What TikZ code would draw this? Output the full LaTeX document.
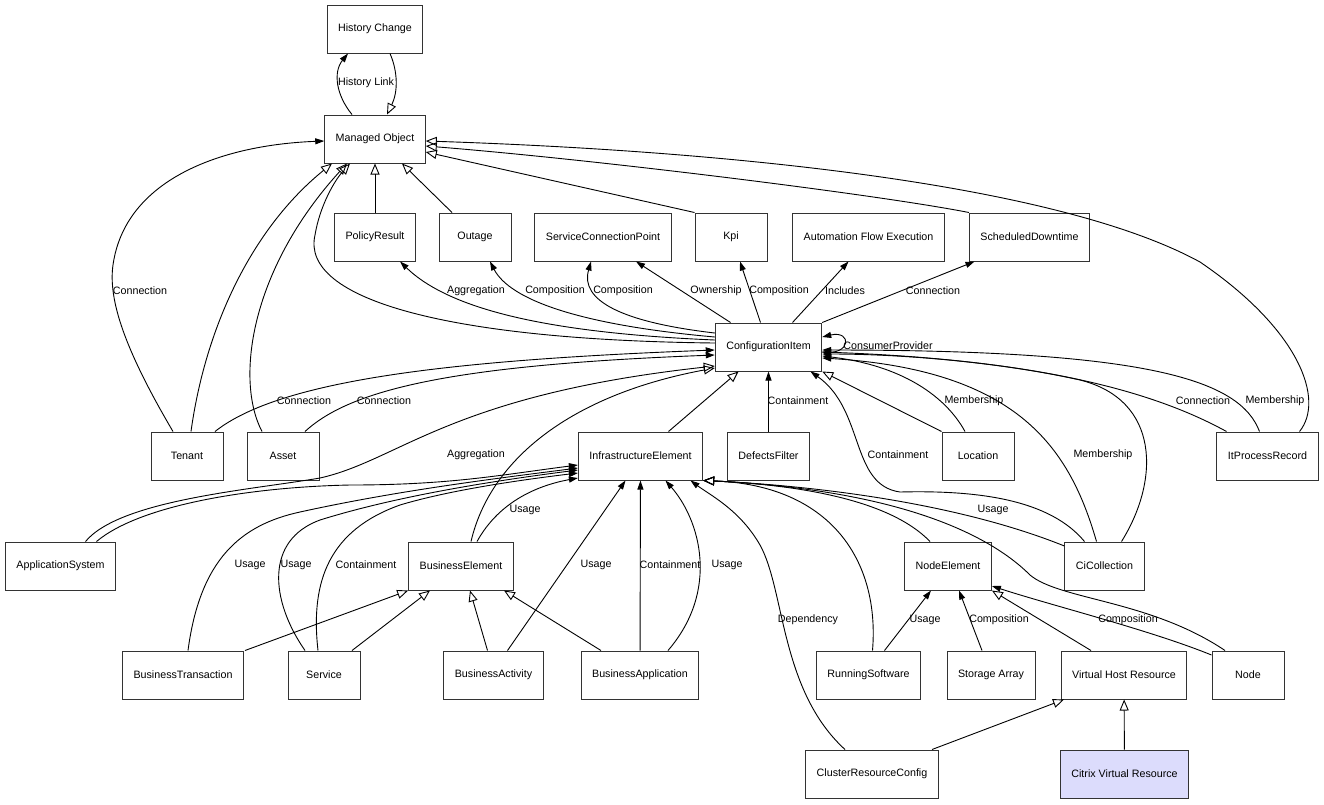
\documentclass[tikz,border=0pt]{standalone}
\usepackage{fontspec}
\setmainfont{Liberation Sans}
\usetikzlibrary{arrows.meta,calc}
\definecolor{citrix}{RGB}{220,220,252}
\begin{document}
\begin{tikzpicture}[x=1pt,y=-1pt,
    box/.style={draw=black!80,line width=1pt,minimum width=72pt,minimum height=48pt,inner xsep=11pt,inner ysep=0pt,font=\fontsize{10.7}{13}\selectfont},
    lbl/.style={inner sep=1pt,font=\fontsize{10.7}{13}\selectfont},
    assoc/.style={line width=0.9pt,-{Triangle[length=9pt,width=6pt]}},
    isa/.style={line width=0.9pt,-{Triangle[open,length=11pt,width=9pt]}}]
  \useasboundingbox[fill=white](0,0)rectangle(1324,804);
  \foreach \n/\x/\y/\t in{hc/375/29/History Change, mo/375/139/Managed Object, pr/375/237/PolicyResult, out/475/237/Outage,
    scp/603/237/ServiceConnectionPoint, kpi/731/237/Kpi, afe/868.5/237/Automation Flow Execution, sd/1029.5/237/ScheduledDowntime,
    ci/768.5/347/ConfigurationItem, ten/187/456/Tenant, ast/283/456/Asset, ie/640.5/456/InfrastructureElement,
    df/768.5/456/DefectsFilter, loc/978/456/Location, ipr/1267.5/456/ItProcessRecord, as/60.5/566/ApplicationSystem,
    be/461/566/BusinessElement, ne/948/566/NodeElement, cc/1104.5/566/CiCollection, bt/183/675/BusinessTransaction,
    svc/324/675/Service, bact/493.5/675/BusinessActivity, bapp/640/675/BusinessApplication, rs/868.5/675/RunningSoftware,
    sa/991/675/Storage Array, vhr/1124/675/Virtual Host Resource, node/1248/675/Node, crc/872/774/ClusterResourceConfig}{
    \node[box](\n)at(\x,\y){\t};
  }
  \node[box,fill=citrix](cvr)at(1124.5,774){Citrix Virtual Resource};
  % Managed Object
  \draw[assoc]($(mo.north)+(-23,0)$) .. controls (336,95) and (333,72) .. ($(hc.south)+(-27,0)$);
  \draw[isa]($(hc.south)+(15,0)$) .. controls (398,72) and (398,92) .. ($(mo.north)+(12,0)$);
  \draw[isa](pr)--(mo); \draw[isa]($(out.north)+(-23,0)$)--($(mo.south)+(27,0)$);
  \draw[isa](kpi.north west)--($(mo.east)+(0,13)$);
  \draw[isa](sd.north west) .. controls (880,195) and (600,160) .. ($(mo.east)+(0,7)$);
  \draw[isa]($(ipr.north)+(32,0)$) .. controls (1325,400) and (1300,330) .. (1200,262) .. controls (1050,180) and (700,150) .. ($(mo.east)+(0,2)$);
  \draw[assoc]($(ten.north)+(-14,0)$) .. controls (125,350) and (108,300) .. (113,265) .. controls (125,180) and (220,145) .. ($(mo.west)+(0,2)$);
  \draw[isa]($(ten.north)+(4,0)$) .. controls (205,330) and (250,230) .. ($(mo.south)+(-43,0)$);
  \draw[isa]($(ast.north)+(-21,0)$) .. controls (235,380) and (250,270) .. ($(mo.south)+(-28,0)$);
  \draw[isa]($(ci.west)+(0,-4)$) .. controls (450,340) and (300,300) .. (315,235) .. controls (320,205) and (335,180) .. ($(mo.south)+(-25,0)$);
  % ConfigurationItem
  \draw[assoc]($(ci.west)+(0,-7)$) .. controls (550,333) and (450,310) .. ($(pr.south)+(25,0)$);
  \draw[assoc]($(ci.west)+(0,-10)$) .. controls (580,325) and (510,300) .. ($(out.south)+(15,0)$);
  \draw[assoc]($(ci.west)+(0,-14)$) .. controls (620,322) and (580,300) .. ($(scp.south)+(-12,0)$);
  \draw[assoc]($(ci.north)+(-38,0)$)--($(scp.south)+(33,0)$);
  \draw[assoc]($(ci.north)+(-8,0)$)--($(kpi.south)+(9,0)$);
  \draw[assoc]($(ci.north)+(24,0)$)--($(afe.south)+(-20,0)$);
  \draw[assoc](ci.north east)--($(sd.south)+(-55,0)$);
  \draw[assoc]($(ci.east)+(0,5)$) .. controls (852,356) and (852,330) .. ($(ci.east)+(0,-10)$);
  \draw[assoc]($(ten.north)+(28,0)$) .. controls (280,380) and (450,360) .. ($(ci.west)+(0,3)$);
  \draw[assoc]($(ast.north)+(22,0)$) .. controls (350,390) and (450,365) .. ($(ci.west)+(0,8)$);
  \draw[isa]($(as.north)+(25,0)$) .. controls (120,500) and (250,490) .. (320,478) .. controls (400,460) and (450,395) .. ($(ci.west)+(0,19)$);
  \draw[isa]($(be.north)+(10,0)$) .. controls (490,460) and (570,395) .. ($(ci.west)+(0,21)$);
  \draw[isa]($(ie.north)+(28,0)$)--($(ci.south)+(-30,0)$);
  \draw[assoc](df)--(ci);
  \draw[assoc]($(cc.north)+(-20,0)$) .. controls (1050,500) and (980,490) .. (900,492) .. controls (850,485) and (865,410) .. ($(ci.south)+(42,0)$);
  \draw[isa](loc.north west)--(ci.south east);
  \draw[assoc]($(loc.north)+(-13,0)$) .. controls (945,395) and (900,365) .. ($(ci.east)+(0,9)$);
  \draw[assoc]($(cc.north)+(-8,0)$) .. controls (1070,450) and (1020,370) .. ($(ci.east)+(0,11)$);
  \draw[assoc]($(cc.north)+(17,0)$) .. controls (1160,480) and (1160,400) .. (1080,380) .. controls (1000,362) and (900,354) .. ($(ci.east)+(0,7)$);
  \draw[assoc]($(ipr.north)+(-41,0)$) .. controls (1160,395) and (1050,360) .. ($(ci.east)+(0,5)$);
  \draw[assoc]($(ipr.north)+(-8,0)$) .. controls (1240,380) and (1150,350) .. ($(ci.east)+(0,3)$);
  % InfrastructureElement
  \draw[assoc]($(as.north)+(36,0)$) .. controls (140,505) and (250,487) .. (350,485) .. controls (450,485) and (500,475) .. ($(ie.west)+(0,9)$);
  \draw[assoc]($(be.north)+(16,0)$) .. controls (500,500) and (540,485) .. ($(ie.west)+(0,22)$);
  \draw[assoc]($(bt.north)+(5,0)$) .. controls (200,560) and (240,525) .. (300,512) .. controls (400,490) and (500,478) .. ($(ie.west)+(0,12)$);
  \draw[assoc]($(svc.north)+(-19,0)$) .. controls (270,600) and (265,540) .. (320,520) .. controls (400,495) and (500,480) .. ($(ie.west)+(0,14)$);
  \draw[assoc]($(svc.north)+(-6,0)$) .. controls (310,580) and (330,530) .. (400,505) .. controls (450,490) and (520,480) .. ($(ie.west)+(0,17)$);
  \draw[assoc]($(bact.north)+(14,0)$)--($(ie.south)+(-15,0)$);
  \draw[assoc](bapp)--(ie);
  \draw[assoc]($(bapp.north)+(28,0)$) .. controls (720,590) and (700,520) .. ($(ie.south)+(25,0)$);
  \draw[assoc]($(crc.north)+(-27,0)$) .. controls (780,690) and (785,590) .. (760,545) .. controls (740,510) and (710,495) .. ($(ie.south)+(50,0)$);
  \draw[isa]($(ne.north)+(-18,0)$) .. controls (890,500) and (800,485) .. (ie.south east);
  \draw[isa]($(cc.west)+(0,-20)$) .. controls (950,500) and (800,485) .. (ie.south east);
  \draw[isa]($(rs.north)+(4,0)$) .. controls (880,560) and (830,485) .. (ie.south east);
  \draw[isa]($(node.north)+(-23,0)$) .. controls (1150,600) and (1060,600) .. (1030,575) .. controls (990,535) and (900,490) .. (ie.south east);
  % BusinessElement, NodeElement
  \draw[isa]($(bt.north)+(62,0)$)--(be.south west);
  \draw[isa]($(svc.north)+(28,0)$)--($(be.south)+(-31,0)$);
  \draw[isa]($(bact.north)+(-6,0)$)--($(be.south)+(9,0)$);
  \draw[isa]($(bapp.north)+(-39,0)$)--($(be.south)+(43,0)$);
  \draw[assoc]($(rs.north)+(16,0)$)--($(ne.south)+(-17,0)$);
  \draw[assoc]($(sa.north)+(-9,0)$)--($(ne.south)+(11,0)$);
  \draw[isa]($(vhr.north)+(-33,0)$)--(ne.south east);
  \draw[assoc]($(node.west)+(0,-20)$) .. controls (1150,630) and (1050,605) .. ($(ne.east)+(0,20)$);
  \draw[isa]($(crc.north)+(60,0)$)--($(vhr.south)+(-60,0)$);
  \draw[isa](cvr)--(vhr);
  \foreach \x/\y/\t [count=\i] in{366/83/History Link, 140/291/Connection, 476/291/Aggregation, 555/291/Composition,
    623/291/Composition, 716/291/Ownership, 779/291/Composition, 845/291/Includes, 933/291/Connection,
    888/346/ConsumerProvider, 304/401/Connection, 384/401/Connection, 798/401/Containment, 974/401/Membership,
    1203/401/Connection, 1275/401/Membership, 476/455/Aggregation, 898/455/Containment, 1103/455/Membership,
    525/510/Usage, 993/510/Usage, 250/565/Usage, 296/565/Usage, 366/565/Containment, 596/565/Usage,
    670/565/Containment, 727/565/Usage, 808/620/Dependency, 925/620/Usage, 999/620/Composition, 1128/620/Composition}{
    \node[lbl](lbl\i)at(\x,\y){\t};
  }
\end{tikzpicture}
\end{document}
